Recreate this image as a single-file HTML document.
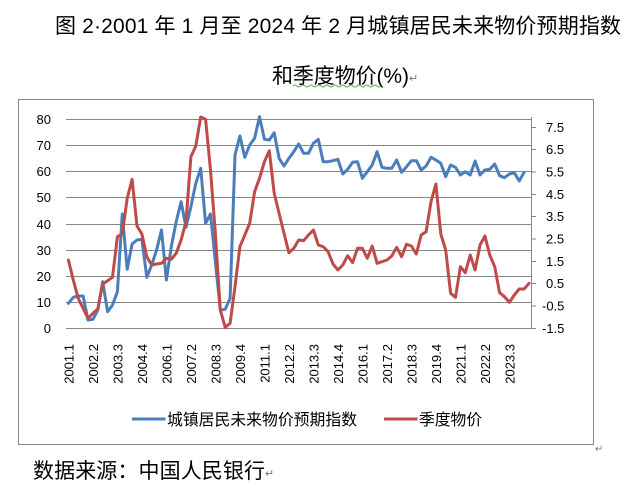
<!DOCTYPE html>
<html>
<head>
<meta charset="utf-8">
<style>
  html,body{margin:0;padding:0;background:#fff;}
  body{width:626px;height:493px;overflow:hidden;}
  svg{display:block;}
  .cjk{font-family:"Liberation Sans","Noto Sans CJK SC",sans-serif;}
  .num{font-family:"Liberation Sans",sans-serif;font-size:13px;fill:#000;}
</style>
</head>
<body>
<svg width="626" height="493" viewBox="0 0 626 493" xmlns="http://www.w3.org/2000/svg">
  <rect x="0" y="0" width="626" height="493" fill="#fff"/>

  <!-- Title -->
  <text class="cjk" x="55" y="33" font-size="21" fill="#000" textLength="566" lengthAdjust="spacing">图 2·2001 年 1 月至 2024 年 2 月城镇居民未来物价预期指数</text>
  <text class="cjk" x="272" y="83" font-size="21" fill="#000" textLength="137" lengthAdjust="spacing">和季度物价(%)</text>
  <text class="cjk" x="409" y="82" font-size="11" fill="#777">↵</text>
  <path d="M293,86 q2,-2 4,0 t4,0 t4,0 t4,0 t4,0 t4,0 t4,0 t4,0 t4,0 t4,0 t4,0 t4,0 t4,0 t4,0 t4,0 t4,0 t4,0 t4,0 t4,0 t4,0 t4,0 t4,0" fill="none" stroke="#4caf50" stroke-width="0.9"/>

  <!-- Chart border -->
  <rect x="18.5" y="99.5" width="575" height="345" fill="#fff" stroke="#868686" stroke-width="1"/>

  <!-- Gridlines -->
  <g stroke="#868686" stroke-width="1">
    <line x1="66" y1="119.5" x2="531.5" y2="119.5"/>
    <line x1="66" y1="145.5" x2="531.5" y2="145.5"/>
    <line x1="66" y1="171.5" x2="531.5" y2="171.5"/>
    <line x1="66" y1="197.5" x2="531.5" y2="197.5"/>
    <line x1="66" y1="224.5" x2="531.5" y2="224.5"/>
    <line x1="66" y1="250.5" x2="531.5" y2="250.5"/>
    <line x1="66" y1="276.5" x2="531.5" y2="276.5"/>
    <line x1="66" y1="302.5" x2="531.5" y2="302.5"/>
    <line x1="66" y1="328.5" x2="531.5" y2="328.5"/>
    <!-- right axis -->
    <line x1="531.5" y1="117" x2="531.5" y2="329"/>
    <line x1="531.5" y1="127.5" x2="536" y2="127.5"/>
    <line x1="531.5" y1="149.5" x2="536" y2="149.5"/>
    <line x1="531.5" y1="172" x2="536" y2="172"/>
    <line x1="531.5" y1="194.5" x2="536" y2="194.5"/>
    <line x1="531.5" y1="216.5" x2="536" y2="216.5"/>
    <line x1="531.5" y1="239" x2="536" y2="239"/>
    <line x1="531.5" y1="261.5" x2="536" y2="261.5"/>
    <line x1="531.5" y1="283.5" x2="536" y2="283.5"/>
    <line x1="531.5" y1="306" x2="536" y2="306"/>
    <line x1="531.5" y1="328.5" x2="536" y2="328.5"/>
  </g>

  <!-- Left axis labels -->
  <g class="num" text-anchor="end">
    <text x="51" y="124">80</text>
    <text x="51" y="150">70</text>
    <text x="51" y="176">60</text>
    <text x="51" y="202">50</text>
    <text x="51" y="229">40</text>
    <text x="51" y="255">30</text>
    <text x="51" y="281">20</text>
    <text x="51" y="307">10</text>
    <text x="51" y="333">0</text>
  </g>

  <!-- Right axis labels -->
  <g class="num">
    <text x="546" y="132">7.5</text>
    <text x="546" y="154">6.5</text>
    <text x="546" y="176.5">5.5</text>
    <text x="546" y="199">4.5</text>
    <text x="546" y="221">3.5</text>
    <text x="546" y="243.5">2.5</text>
    <text x="546" y="266">1.5</text>
    <text x="546" y="288">0.5</text>
    <text x="542" y="310.5">-0.5</text>
    <text x="542" y="333">-1.5</text>
  </g>

  <!-- Category labels -->
  <g class="num" text-anchor="end">
    <text transform="translate(73.5,344) rotate(-90)">2001.1</text>
    <text transform="translate(98,344) rotate(-90)">2002.2</text>
    <text transform="translate(122.5,344) rotate(-90)">2003.3</text>
    <text transform="translate(147,344) rotate(-90)">2004.4</text>
    <text transform="translate(171.5,344) rotate(-90)">2006.1</text>
    <text transform="translate(196,344) rotate(-90)">2007.2</text>
    <text transform="translate(220.5,344) rotate(-90)">2008.3</text>
    <text transform="translate(245,344) rotate(-90)">2009.4</text>
    <text transform="translate(269.5,344) rotate(-90)">2011.1</text>
    <text transform="translate(294,344) rotate(-90)">2012.2</text>
    <text transform="translate(318.5,344) rotate(-90)">2013.3</text>
    <text transform="translate(343,344) rotate(-90)">2014.4</text>
    <text transform="translate(367.5,344) rotate(-90)">2016.1</text>
    <text transform="translate(392,344) rotate(-90)">2017.2</text>
    <text transform="translate(416.5,344) rotate(-90)">2018.3</text>
    <text transform="translate(441,344) rotate(-90)">2019.4</text>
    <text transform="translate(465.5,344) rotate(-90)">2021.1</text>
    <text transform="translate(490,344) rotate(-90)">2022.2</text>
    <text transform="translate(514.5,344) rotate(-90)">2023.3</text>
  </g>

  <!-- Blue series -->
  <polyline fill="none" stroke="#4A7EBB" stroke-width="3" stroke-linejoin="round" stroke-linecap="round"
    points="68.4,303.3 73.3,297.3 78.2,296 83.1,296 88,320 93,319.3 97.8,310 102.7,281.7 107.6,311.7 112.5,305 117.4,291.7 122.3,214 127.2,269.3 132.1,244 137,240 141.9,239.3 146.8,277.3 151.7,265 156.6,250 161.5,230 166.4,280 171.3,246.7 176.2,221.7 181.1,201.7 186,227.3 190.9,206.7 195.8,183.3 200.7,168.3 205.6,223.3 210.5,214 215.4,262 220.3,310 225.2,309.3 230.1,298.3 235,155 239.9,136 244.8,157.3 249.7,145 254.6,138.3 259.5,116.7 264.4,139.3 269.3,140 274.2,132.7 279.1,158.3 284,166 288.9,158.3 293.8,151.7 298.7,144 303.6,153.3 308.5,153.3 313.4,143.3 318.3,139.3 323.2,161.7 328.1,161.7 333,160.7 337.9,159.3 342.8,174 347.7,169.3 352.6,162.3 357.5,161.7 362.4,178.3 367.3,171.7 372.2,165 377.1,151.7 382,167.3 386.9,168.3 391.8,168.3 396.7,160 401.6,172.3 406.5,166.7 411.4,160.7 416.3,160.7 421.2,170 426.1,166 431,157.3 435.9,160 440.8,163.3 445.7,176.7 450.6,165 455.5,167.3 460.4,175 465.3,171.7 470.2,175 475.1,161 480,175 484.9,170 489.8,169.3 494.7,164 499.6,175.7 504.5,177.7 509.4,174 514.3,172.7 519.2,181 524.1,172.3"/>

  <!-- Red series -->
  <polyline fill="none" stroke="#BE4B48" stroke-width="3" stroke-linejoin="round" stroke-linecap="round"
    points="68.4,260 73.3,280 78.2,298.3 83.1,308.3 88,318.3 93,313.3 97.8,309 102.7,284 107.6,280.7 112.5,277.3 117.4,236.7 122.3,234 127.2,198.3 132.1,179.3 137,226 141.9,234 146.8,256.7 151.7,265 156.6,264 161.5,263.3 166.4,258.3 171.3,259.3 176.2,253.3 181.1,240 186,221.7 190.9,156.7 195.8,146 200.7,117 205.6,119.3 210.5,170 215.4,234 220.3,310 225.2,327.3 230.1,323.3 235,286.7 239.9,246.7 244.8,235 249.7,223.3 254.6,191.7 259.5,178.3 264.4,161.7 269.3,150.7 274.2,193.3 279.1,213.3 284,233.3 288.9,252.7 293.8,248.3 298.7,240 303.6,240.7 308.5,235 313.4,230 318.3,245 323.2,246.7 328.1,251.7 333,264 337.9,270 342.8,265 347.7,255.7 352.6,262.7 357.5,248.3 362.4,248.3 367.3,258.3 372.2,246 377.1,263.3 382,261.7 386.9,260 391.8,256 396.7,247.3 401.6,256.7 406.5,244.3 411.4,246 416.3,254 421.2,235 426.1,231.7 431,201.7 435.9,184 440.8,234 445.7,250 450.6,293.3 455.5,297.3 460.4,266.7 465.3,272.7 470.2,255 475.1,270 480,245 484.9,236 489.8,255 494.7,266.7 499.6,292.7 504.5,296.7 509.4,302.3 514.3,295 519.2,289 524.1,289 529,283.3"/>

  <!-- Legend -->
  <line x1="132" y1="419" x2="165.5" y2="419" stroke="#4A7EBB" stroke-width="3"/>
  <text class="cjk" x="167" y="425" font-size="15.8" fill="#000" textLength="190" lengthAdjust="spacing">城镇居民未来物价预期指数</text>
  <line x1="384" y1="419" x2="417.5" y2="419" stroke="#BE4B48" stroke-width="3"/>
  <text class="cjk" x="419" y="425" font-size="15.8" fill="#000" textLength="63" lengthAdjust="spacing">季度物价</text>

  <text class="cjk" x="595" y="452" font-size="10" fill="#777">↵</text>

  <!-- Footer -->
  <text class="cjk" x="33" y="478" font-size="21" fill="#000" textLength="232" lengthAdjust="spacing">数据来源：中国人民银行</text>
  <text class="cjk" x="265" y="477" font-size="11" fill="#777">↵</text>
</svg>
</body>
</html>
